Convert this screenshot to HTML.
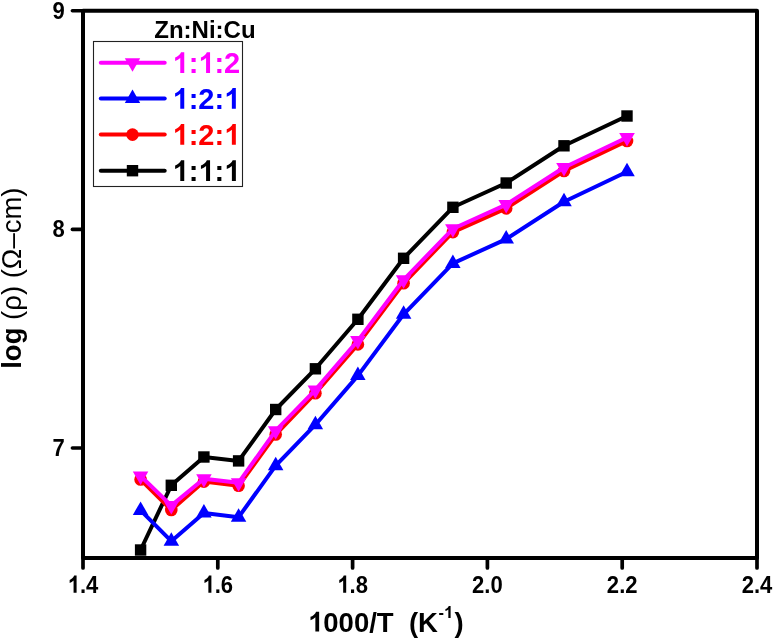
<!DOCTYPE html>
<html><head><meta charset="utf-8"><style>
html,body{margin:0;padding:0;background:#fff;width:774px;height:639px;overflow:hidden}
svg{display:block;will-change:transform}
text{font-family:"Liberation Sans",sans-serif}
.b{font-weight:bold}
.o{fill-opacity:0}
</style></head><body>
<svg width="774" height="639" viewBox="0 0 774 639">
<rect width="774" height="639" fill="#fff"/>
<polyline points="140.6,550 171.3,485.3 203.9,457 238.6,460.9 275.7,409.5 315.4,368.8 357.9,319.3 403.6,258.3 452.9,207.3 506.2,183 564.0,145.8 627.0,116" fill="none" stroke="#000000" stroke-width="4" stroke-linejoin="round" stroke-linecap="round"/><rect x="134.9" y="544.3" width="11.4" height="11.4" fill="#000000"/><rect x="165.6" y="479.6" width="11.4" height="11.4" fill="#000000"/><rect x="198.2" y="451.3" width="11.4" height="11.4" fill="#000000"/><rect x="232.9" y="455.2" width="11.4" height="11.4" fill="#000000"/><rect x="270.0" y="403.8" width="11.4" height="11.4" fill="#000000"/><rect x="309.7" y="363.1" width="11.4" height="11.4" fill="#000000"/><rect x="352.2" y="313.6" width="11.4" height="11.4" fill="#000000"/><rect x="397.9" y="252.6" width="11.4" height="11.4" fill="#000000"/><rect x="447.2" y="201.6" width="11.4" height="11.4" fill="#000000"/><rect x="500.5" y="177.3" width="11.4" height="11.4" fill="#000000"/><rect x="558.3" y="140.1" width="11.4" height="11.4" fill="#000000"/><rect x="621.3" y="110.3" width="11.4" height="11.4" fill="#000000"/><polyline points="140.6,510.4 171.3,541.2 203.9,513 238.6,517.2 275.7,465.7 315.4,424.7 357.9,375.6 403.6,314.3 452.9,263.4 506.2,239.1 564.0,201.8 627.0,171.8" fill="none" stroke="#0000FF" stroke-width="4" stroke-linejoin="round" stroke-linecap="round"/><polygon points="140.6,501.4 148.3,514.9 132.8,514.9" fill="#0000FF"/><polygon points="171.3,532.2 179.1,545.7 163.6,545.7" fill="#0000FF"/><polygon points="203.9,504.0 211.7,517.5 196.2,517.5" fill="#0000FF"/><polygon points="238.6,508.2 246.3,521.7 230.8,521.7" fill="#0000FF"/><polygon points="275.7,456.7 283.4,470.2 267.9,470.2" fill="#0000FF"/><polygon points="315.4,415.7 323.1,429.2 307.6,429.2" fill="#0000FF"/><polygon points="357.9,366.6 365.6,380.1 350.1,380.1" fill="#0000FF"/><polygon points="403.6,305.3 411.4,318.8 395.9,318.8" fill="#0000FF"/><polygon points="452.9,254.4 460.6,267.9 445.1,267.9" fill="#0000FF"/><polygon points="506.2,230.1 514.0,243.6 498.4,243.6" fill="#0000FF"/><polygon points="564.0,192.8 571.8,206.3 556.2,206.3" fill="#0000FF"/><polygon points="627.0,162.8 634.8,176.3 619.2,176.3" fill="#0000FF"/><polyline points="140.6,479.5 171.3,510 203.9,481.6 238.6,485.8 275.7,434.5 315.4,393.2 357.9,344.4 403.6,283.3 452.9,232.1 506.2,208.4 564.0,171 627.0,141" fill="none" stroke="#FF0000" stroke-width="4" stroke-linejoin="round" stroke-linecap="round"/><circle cx="140.6" cy="479.5" r="6.3" fill="#FF0000"/><circle cx="171.3" cy="510.0" r="6.3" fill="#FF0000"/><circle cx="203.9" cy="481.6" r="6.3" fill="#FF0000"/><circle cx="238.6" cy="485.8" r="6.3" fill="#FF0000"/><circle cx="275.7" cy="434.5" r="6.3" fill="#FF0000"/><circle cx="315.4" cy="393.2" r="6.3" fill="#FF0000"/><circle cx="357.9" cy="344.4" r="6.3" fill="#FF0000"/><circle cx="403.6" cy="283.3" r="6.3" fill="#FF0000"/><circle cx="452.9" cy="232.1" r="6.3" fill="#FF0000"/><circle cx="506.2" cy="208.4" r="6.3" fill="#FF0000"/><circle cx="564.0" cy="171.0" r="6.3" fill="#FF0000"/><circle cx="627.0" cy="141.0" r="6.3" fill="#FF0000"/><polyline points="140.6,476 171.3,505.6 203.9,478.7 238.6,482.7 275.7,430.7 315.4,389.9 357.9,340.6 403.6,279.8 452.9,228.8 506.2,204.6 564.0,167.5 627.0,137.5" fill="none" stroke="#FF00FF" stroke-width="4" stroke-linejoin="round" stroke-linecap="round"/><polygon points="132.8,471.5 148.3,471.5 140.6,485.0" fill="#FF00FF"/><polygon points="163.6,501.1 179.1,501.1 171.3,514.6" fill="#FF00FF"/><polygon points="196.2,474.2 211.7,474.2 203.9,487.7" fill="#FF00FF"/><polygon points="230.8,478.2 246.3,478.2 238.6,491.7" fill="#FF00FF"/><polygon points="267.9,426.2 283.4,426.2 275.7,439.7" fill="#FF00FF"/><polygon points="307.6,385.4 323.1,385.4 315.4,398.9" fill="#FF00FF"/><polygon points="350.1,336.1 365.6,336.1 357.9,349.6" fill="#FF00FF"/><polygon points="395.9,275.3 411.4,275.3 403.6,288.8" fill="#FF00FF"/><polygon points="445.1,224.3 460.6,224.3 452.9,237.8" fill="#FF00FF"/><polygon points="498.4,200.1 514.0,200.1 506.2,213.6" fill="#FF00FF"/><polygon points="556.2,163.0 571.8,163.0 564.0,176.5" fill="#FF00FF"/><polygon points="619.2,133.0 634.8,133.0 627.0,146.5" fill="#FF00FF"/>
<path d="M83,10.8 H757 V558 H83 Z" fill="none" stroke="#000" stroke-width="4" stroke-linejoin="round"/>
<line x1="83" y1="10.8" x2="72.4" y2="10.8" stroke="#000" stroke-width="3.6" stroke-linecap="round"/><line x1="83" y1="229.4" x2="72.4" y2="229.4" stroke="#000" stroke-width="3.6" stroke-linecap="round"/><line x1="83" y1="448.0" x2="72.4" y2="448.0" stroke="#000" stroke-width="3.6" stroke-linecap="round"/><line x1="83.0" y1="558" x2="83.0" y2="567.9" stroke="#000" stroke-width="3.7" stroke-linecap="round"/><line x1="217.8" y1="558" x2="217.8" y2="567.9" stroke="#000" stroke-width="3.7" stroke-linecap="round"/><line x1="352.6" y1="558" x2="352.6" y2="567.9" stroke="#000" stroke-width="3.7" stroke-linecap="round"/><line x1="487.4" y1="558" x2="487.4" y2="567.9" stroke="#000" stroke-width="3.7" stroke-linecap="round"/><line x1="622.2" y1="558" x2="622.2" y2="567.9" stroke="#000" stroke-width="3.7" stroke-linecap="round"/><line x1="757.0" y1="558" x2="757.0" y2="567.9" stroke="#000" stroke-width="3.7" stroke-linecap="round"/>
<text transform="translate(64.8,18.8) scale(0.92,1)" text-anchor="end" class="b" font-size="24">9</text><text transform="translate(64.8,237.4) scale(0.92,1)" text-anchor="end" class="b" font-size="24">8</text><text transform="translate(64.8,456.0) scale(0.92,1)" text-anchor="end" class="b" font-size="24">7</text><text transform="translate(83.0,592.8) scale(0.92,1)" text-anchor="middle" class="b" font-size="24"><tspan class="o">1</tspan>.4</text><text transform="translate(217.8,592.8) scale(0.92,1)" text-anchor="middle" class="b" font-size="24"><tspan class="o">1</tspan>.6</text><text transform="translate(352.6,592.8) scale(0.92,1)" text-anchor="middle" class="b" font-size="24"><tspan class="o">1</tspan>.8</text><text transform="translate(487.4,592.8) scale(0.92,1)" text-anchor="middle" class="b" font-size="24">2.0</text><text transform="translate(622.2,592.8) scale(0.92,1)" text-anchor="middle" class="b" font-size="24">2.2</text><text transform="translate(757.0,592.8) scale(0.92,1)" text-anchor="middle" class="b" font-size="24">2.4</text><text x="308" y="631.5" class="b" font-size="27.5"><tspan class="o">1</tspan>000/T&#160;&#160;(K<tspan font-size="16.5" dx="0.5" dy="-13.6">-<tspan class="o">1</tspan></tspan><tspan dx="1.3" dy="13.6">)</tspan></text><text transform="translate(20.9,368.8) rotate(-90)" font-size="27.5"><tspan class="b">log</tspan><tspan> (ρ) (Ω–cm)</tspan></text>
<rect x="93.5" y="41.5" width="149" height="145" fill="#fff" stroke="#222" stroke-width="1.1"/><text x="154.3" y="37.6" class="b" font-size="24">Zn:Ni:Cu</text><line x1="100.8" y1="62.7" x2="164.7" y2="62.7" stroke="#FF00FF" stroke-width="4" stroke-linecap="round"/><polygon points="124.8,58.2 140.2,58.2 132.5,71.7" fill="#FF00FF"/><text x="172.5" y="72.9" class="b" font-size="29" fill="#FF00FF"><tspan class="o">1</tspan>:<tspan class="o">1</tspan>:2</text><line x1="100.8" y1="98.5" x2="164.7" y2="98.5" stroke="#0000FF" stroke-width="4" stroke-linecap="round"/><polygon points="132.5,89.5 140.2,103.0 124.8,103.0" fill="#0000FF"/><text x="172.5" y="108.7" class="b" font-size="29" fill="#0000FF"><tspan class="o">1</tspan>:2:<tspan class="o">1</tspan></text><line x1="100.8" y1="134.6" x2="164.7" y2="134.6" stroke="#FF0000" stroke-width="4" stroke-linecap="round"/><circle cx="132.5" cy="134.6" r="6.3" fill="#FF0000"/><text x="172.5" y="144.8" class="b" font-size="29" fill="#FF0000"><tspan class="o">1</tspan>:2:<tspan class="o">1</tspan></text><line x1="100.8" y1="170.7" x2="164.7" y2="170.7" stroke="#000000" stroke-width="4" stroke-linecap="round"/><rect x="126.8" y="165.0" width="11.4" height="11.4" fill="#000000"/><text x="172.5" y="180.9" class="b" font-size="29" fill="#000000"><tspan class="o">1</tspan>:<tspan class="o">1</tspan>:<tspan class="o">1</tspan></text>
<path transform="matrix(0.02208,0.00000,0.00000,-0.02400,67.65,592.80)" d="M405,0 L268,0 L268,516 C218,469 159,434 91,411 L91,535 C127,547 166,569 208,602 C250,635 279,673 295,716 L405,716 Z" fill="#000000"/><path transform="matrix(0.02208,0.00000,0.00000,-0.02400,202.45,592.80)" d="M405,0 L268,0 L268,516 C218,469 159,434 91,411 L91,535 C127,547 166,569 208,602 C250,635 279,673 295,716 L405,716 Z" fill="#000000"/><path transform="matrix(0.02208,0.00000,0.00000,-0.02400,337.25,592.80)" d="M405,0 L268,0 L268,516 C218,469 159,434 91,411 L91,535 C127,547 166,569 208,602 C250,635 279,673 295,716 L405,716 Z" fill="#000000"/><path transform="matrix(0.02750,0.00000,0.00000,-0.02750,308.00,631.50)" d="M405,0 L268,0 L268,516 C218,469 159,434 91,411 L91,535 C127,547 166,569 208,602 C250,635 279,673 295,716 L405,716 Z" fill="#000000"/><path transform="matrix(0.01650,0.00000,0.00000,-0.01650,443.92,617.90)" d="M405,0 L268,0 L268,516 C218,469 159,434 91,411 L91,535 C127,547 166,569 208,602 C250,635 279,673 295,716 L405,716 Z" fill="#000000"/><path transform="matrix(0.02900,0.00000,0.00000,-0.02900,172.50,72.90)" d="M405,0 L268,0 L268,516 C218,469 159,434 91,411 L91,535 C127,547 166,569 208,602 C250,635 279,673 295,716 L405,716 Z" fill="#FF00FF"/><path transform="matrix(0.02900,0.00000,0.00000,-0.02900,198.31,72.90)" d="M405,0 L268,0 L268,516 C218,469 159,434 91,411 L91,535 C127,547 166,569 208,602 C250,635 279,673 295,716 L405,716 Z" fill="#FF00FF"/><path transform="matrix(0.02900,0.00000,0.00000,-0.02900,172.50,108.70)" d="M405,0 L268,0 L268,516 C218,469 159,434 91,411 L91,535 C127,547 166,569 208,602 C250,635 279,673 295,716 L405,716 Z" fill="#0000FF"/><path transform="matrix(0.02900,0.00000,0.00000,-0.02900,224.09,108.70)" d="M405,0 L268,0 L268,516 C218,469 159,434 91,411 L91,535 C127,547 166,569 208,602 C250,635 279,673 295,716 L405,716 Z" fill="#0000FF"/><path transform="matrix(0.02900,0.00000,0.00000,-0.02900,172.50,144.80)" d="M405,0 L268,0 L268,516 C218,469 159,434 91,411 L91,535 C127,547 166,569 208,602 C250,635 279,673 295,716 L405,716 Z" fill="#FF0000"/><path transform="matrix(0.02900,0.00000,0.00000,-0.02900,224.09,144.80)" d="M405,0 L268,0 L268,516 C218,469 159,434 91,411 L91,535 C127,547 166,569 208,602 C250,635 279,673 295,716 L405,716 Z" fill="#FF0000"/><path transform="matrix(0.02900,0.00000,0.00000,-0.02900,172.50,180.90)" d="M405,0 L268,0 L268,516 C218,469 159,434 91,411 L91,535 C127,547 166,569 208,602 C250,635 279,673 295,716 L405,716 Z" fill="#000000"/><path transform="matrix(0.02900,0.00000,0.00000,-0.02900,198.31,180.90)" d="M405,0 L268,0 L268,516 C218,469 159,434 91,411 L91,535 C127,547 166,569 208,602 C250,635 279,673 295,716 L405,716 Z" fill="#000000"/><path transform="matrix(0.02900,0.00000,0.00000,-0.02900,224.12,180.90)" d="M405,0 L268,0 L268,516 C218,469 159,434 91,411 L91,535 C127,547 166,569 208,602 C250,635 279,673 295,716 L405,716 Z" fill="#000000"/>
</svg>
</body></html>
